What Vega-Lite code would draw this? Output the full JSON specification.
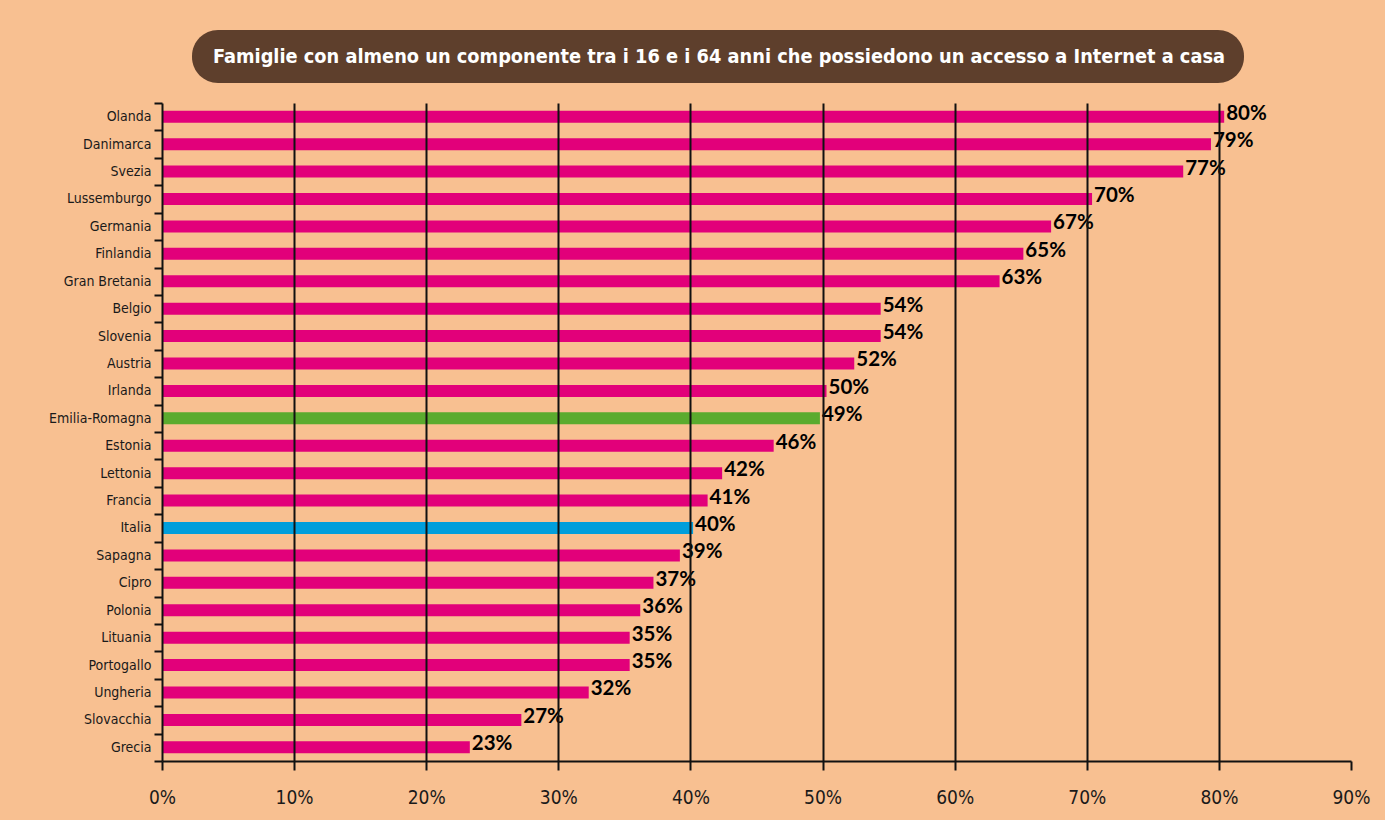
{
  "$schema": "https://vega.github.io/schema/vega-lite/v6.json",
  "background": "#F8C091",
  "padding": {"left": 48, "top": 30, "right": 15, "bottom": 15},
  "config": {"view": {"stroke": null}, "concat": {"spacing": 13}},
  "vconcat": [
    {
      "width": 1052,
      "height": 53,
      "data": {"values": [{"title": "Famiglie con almeno un componente tra i 16 e i 64 anni che possiedono un accesso a Internet a casa"}]},
      "layer": [
        {"mark": {"type": "rect", "color": "#5E3F2C", "cornerRadius": 26, "xOffset": 30, "x2Offset": 30}, "encoding": {"x2": {"value": 0}}},
        {"mark": {"type": "text", "color": "#FFFFFF", "font": "DejaVu Sans Condensed", "fontWeight": "bold", "fontSize": 19.8, "align": "center", "baseline": "middle", "xOffset": 31}, "encoding": {"text": {"field": "title"}}}
      ]
    },
    {
      "width": 1189,
      "height": 658,
      "data": {"values": [
        {"country": "Olanda", "value": 80.4, "label": "80%", "group": "eu"},
        {"country": "Danimarca", "value": 79.4, "label": "79%", "group": "eu"},
        {"country": "Svezia", "value": 77.3, "label": "77%", "group": "eu"},
        {"country": "Lussemburgo", "value": 70.4, "label": "70%", "group": "eu"},
        {"country": "Germania", "value": 67.3, "label": "67%", "group": "eu"},
        {"country": "Finlandia", "value": 65.2, "label": "65%", "group": "eu"},
        {"country": "Gran Bretania", "value": 63.4, "label": "63%", "group": "eu"},
        {"country": "Belgio", "value": 54.4, "label": "54%", "group": "eu"},
        {"country": "Slovenia", "value": 54.4, "label": "54%", "group": "eu"},
        {"country": "Austria", "value": 52.4, "label": "52%", "group": "eu"},
        {"country": "Irlanda", "value": 50.3, "label": "50%", "group": "eu"},
        {"country": "Emilia-Romagna", "value": 49.8, "label": "49%", "group": "er"},
        {"country": "Estonia", "value": 46.3, "label": "46%", "group": "eu"},
        {"country": "Lettonia", "value": 42.4, "label": "42%", "group": "eu"},
        {"country": "Francia", "value": 41.3, "label": "41%", "group": "eu"},
        {"country": "Italia", "value": 40.2, "label": "40%", "group": "it"},
        {"country": "Sapagna", "value": 39.2, "label": "39%", "group": "eu"},
        {"country": "Cipro", "value": 37.2, "label": "37%", "group": "eu"},
        {"country": "Polonia", "value": 36.2, "label": "36%", "group": "eu"},
        {"country": "Lituania", "value": 35.4, "label": "35%", "group": "eu"},
        {"country": "Portogallo", "value": 35.4, "label": "35%", "group": "eu"},
        {"country": "Ungheria", "value": 32.3, "label": "32%", "group": "eu"},
        {"country": "Slovacchia", "value": 27.2, "label": "27%", "group": "eu"},
        {"country": "Grecia", "value": 23.3, "label": "23%", "group": "eu"}
      ]},
      "encoding": {
        "y": {
          "field": "country", "type": "nominal", "sort": null,
          "scale": {"paddingInner": 0, "paddingOuter": 0},
          "axis": {
            "title": null, "tickBand": "extent", "zindex": 1,
            "domainColor": "#111111", "domainWidth": 2,
            "tickColor": "#111111", "tickWidth": 2, "tickSize": 8,
            "labelFont": "DejaVu Sans Condensed", "labelFontSize": 14, "labelColor": "#1a1a1a", "labelPadding": 3
          }
        }
      },
      "layer": [
        {
          "mark": {"type": "bar", "size": 12},
          "encoding": {
            "x": {
              "field": "value", "type": "quantitative",
              "scale": {"domain": [0, 90], "nice": false},
              "axis": {
                "title": null, "zindex": 1,
                "values": [0, 10, 20, 30, 40, 50, 60, 70, 80, 90],
                "labelExpr": "datum.value + '%'",
                "labelFlush": false,
                "grid": true,
                "gridColor": {"condition": {"test": "datum.value == 0 || datum.value == 90", "value": "transparent"}, "value": "#111111"},
                "gridWidth": 2,
                "domainColor": "#111111", "domainWidth": 2,
                "tickColor": "#111111", "tickWidth": 2, "tickSize": 9,
                "labelFont": "DejaVu Sans Condensed", "labelFontSize": 19, "labelColor": "#1a1a1a", "labelPadding": 18
              }
            },
            "color": {
              "field": "group", "type": "nominal",
              "scale": {"domain": ["eu", "er", "it"], "range": ["#E2007A", "#5AAB2E", "#009EDB"]},
              "legend": null
            }
          }
        },
        {
          "mark": {"type": "text", "align": "left", "baseline": "middle", "dx": 2, "dy": -3, "font": "Lato", "fontWeight": "bold", "fontSize": 20.5, "color": "#000000"},
          "encoding": {
            "x": {"field": "value", "type": "quantitative"},
            "text": {"field": "label"}
          }
        }
      ]
    }
  ]
}
